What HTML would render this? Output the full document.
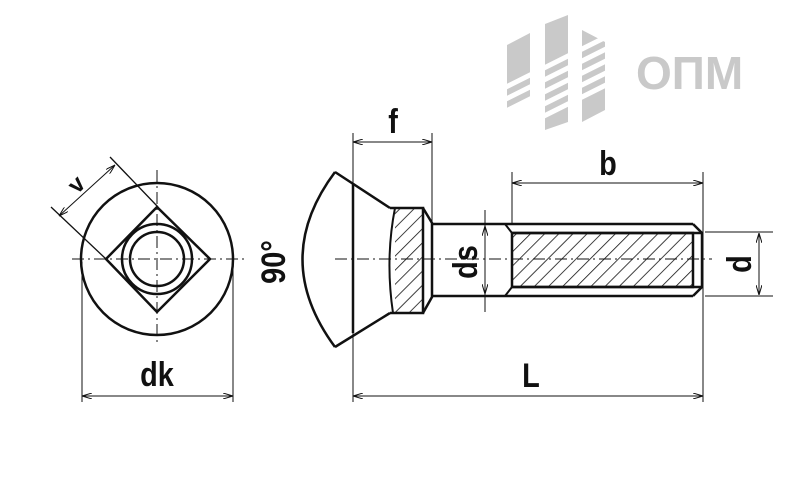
<!DOCTYPE html>
<html><head><meta charset="utf-8"><style>
html,body{margin:0;padding:0;background:#fff;}
svg{display:block}
text{font-family:"Liberation Sans",sans-serif;font-weight:bold;fill:#111}
</style></head><body>
<svg width="812" height="484" viewBox="0 0 812 484" xmlns="http://www.w3.org/2000/svg">
<defs>
<marker id="a" viewBox="0 0 10 6" refX="10" refY="3" markerWidth="10" markerHeight="6" orient="auto-start-reverse" markerUnits="userSpaceOnUse"><path d="M0,0 L10,3 L0,6" fill="none" stroke="#111" stroke-width="1"/></marker>
<pattern id="h" width="10" height="10" patternUnits="userSpaceOnUse" patternTransform="rotate(45)"><line x1="0" y1="0" x2="0" y2="10" stroke="#111" stroke-width="1.6"/></pattern>
</defs>
<!-- logo -->
<g fill="#c9c9c9">
<polygon points="507,45 530,33 530,100 507,112"/>
<polygon points="545,24 568,15 568,122 545,130"/>
<polygon points="582,30 605,42 605,110 582,122"/>
</g>
<g stroke="#fff" stroke-width="5">
<line x1="500" y1="90" x2="612" y2="34"/>
<line x1="500" y1="102" x2="612" y2="46"/>
<line x1="500" y1="114" x2="612" y2="58"/>
<line x1="500" y1="126" x2="612" y2="70"/>
<line x1="500" y1="138" x2="612" y2="82"/>
</g>
<text x="636" y="89" font-size="46" style="fill:#c9c9c9;font-weight:bold">ОПМ</text>

<g fill="none" stroke="#111">
<circle cx="157" cy="259" r="76" stroke-width="2.5"/>
<polygon points="157,207 210,259 157,312 106,259" stroke-width="2.5"/>
<circle cx="157" cy="259" r="35" stroke-width="2.5"/>
<circle cx="157" cy="259" r="27" stroke-width="2.5"/>
<line x1="72" y1="259" x2="245" y2="259" stroke-width="1" stroke-dasharray="12,4,2,4"/>
<line x1="157" y1="170" x2="157" y2="345" stroke-width="1" stroke-dasharray="12,4,2,4"/>
<line x1="51" y1="207" x2="106" y2="259" stroke-width="1.3"/>
<line x1="110" y1="157" x2="158" y2="207" stroke-width="1.3"/>
<line x1="59" y1="216" x2="115" y2="165" stroke-width="1" marker-start="url(#a)" marker-end="url(#a)"/>
<line x1="82" y1="262" x2="82" y2="402" stroke-width="1"/>
<line x1="233" y1="262" x2="233" y2="402" stroke-width="1"/>
<line x1="82" y1="396" x2="233" y2="396" stroke-width="1" marker-start="url(#a)" marker-end="url(#a)"/>

<path d="M335,172 Q270,259 335,347" stroke-width="2.5"/>
<line x1="353" y1="183" x2="353" y2="333" stroke-width="2.5"/>
<path d="M335,172 L390,208 M335,347 L390,313" stroke-width="2.5"/>
<path d="M390,208 L423,208 L423,313 L390,313" stroke-width="2.5"/>
<path d="M395,208 Q385,259 393,313" stroke-width="2" />
<rect x="395" y="209" width="27" height="103" fill="url(#h)" stroke="none"/>
<path d="M423,208 L432,223 L432,297 L423,313" stroke-width="2.5"/>
<line x1="432" y1="224" x2="693" y2="224" stroke-width="2.5"/>
<line x1="432" y1="296" x2="693" y2="296" stroke-width="2.5"/>
<path d="M693,224 L702,233 L702,287 L693,296" stroke-width="2.5"/>
<path d="M505,224 L512,233 M505,296 L512,287" stroke-width="2"/>
<rect x="512" y="233" width="181" height="54" fill="url(#h)" stroke="#111" stroke-width="2.5"/>
<line x1="512" y1="233" x2="702" y2="233" stroke-width="2.5"/>
<line x1="512" y1="287" x2="702" y2="287" stroke-width="2.5"/>
<line x1="335" y1="259" x2="712" y2="259" stroke-width="1" stroke-dasharray="12,4,2,4"/>

<line x1="353" y1="133" x2="353" y2="402" stroke-width="1"/>
<line x1="432" y1="133" x2="432" y2="222" stroke-width="1"/>
<line x1="353" y1="142" x2="432" y2="142" stroke-width="1" marker-start="url(#a)" marker-end="url(#a)"/>
<line x1="512" y1="172" x2="512" y2="223" stroke-width="1"/>
<line x1="703" y1="172" x2="703" y2="402" stroke-width="1"/>
<line x1="512" y1="183" x2="703" y2="183" stroke-width="1" marker-start="url(#a)" marker-end="url(#a)"/>
<line x1="353" y1="396" x2="703" y2="396" stroke-width="1" marker-start="url(#a)" marker-end="url(#a)"/>
<line x1="485" y1="210" x2="485" y2="312" stroke-width="1"/>
<line x1="485" y1="226" x2="485" y2="294" stroke-width="1" marker-start="url(#a)" marker-end="url(#a)"/>
<line x1="705" y1="232" x2="773" y2="232" stroke-width="1"/>
<line x1="705" y1="296" x2="773" y2="296" stroke-width="1"/>
<line x1="759" y1="233" x2="759" y2="295" stroke-width="1" marker-start="url(#a)" marker-end="url(#a)"/>
</g>

<text transform="translate(157,386) scale(0.85,1)" font-size="34" text-anchor="middle">dk</text>
<text transform="translate(393,133) scale(0.85,1)" font-size="34" text-anchor="middle">f</text>
<text transform="translate(608,175) scale(0.85,1)" font-size="34" text-anchor="middle">b</text>
<text transform="translate(531,387) scale(0.85,1)" font-size="34" text-anchor="middle">L</text>
<text transform="translate(82,190) rotate(-45)" font-size="24" text-anchor="middle">v</text>
<text transform="translate(477,262) rotate(-90) scale(0.85,1)" font-size="34" text-anchor="middle">ds</text>
<text transform="translate(751,264) rotate(-90) scale(0.85,1)" font-size="34" text-anchor="middle">d</text>
<text transform="translate(285,262) rotate(-90) scale(0.85,1)" font-size="34" text-anchor="middle">90°</text>
</svg>
</body></html>
